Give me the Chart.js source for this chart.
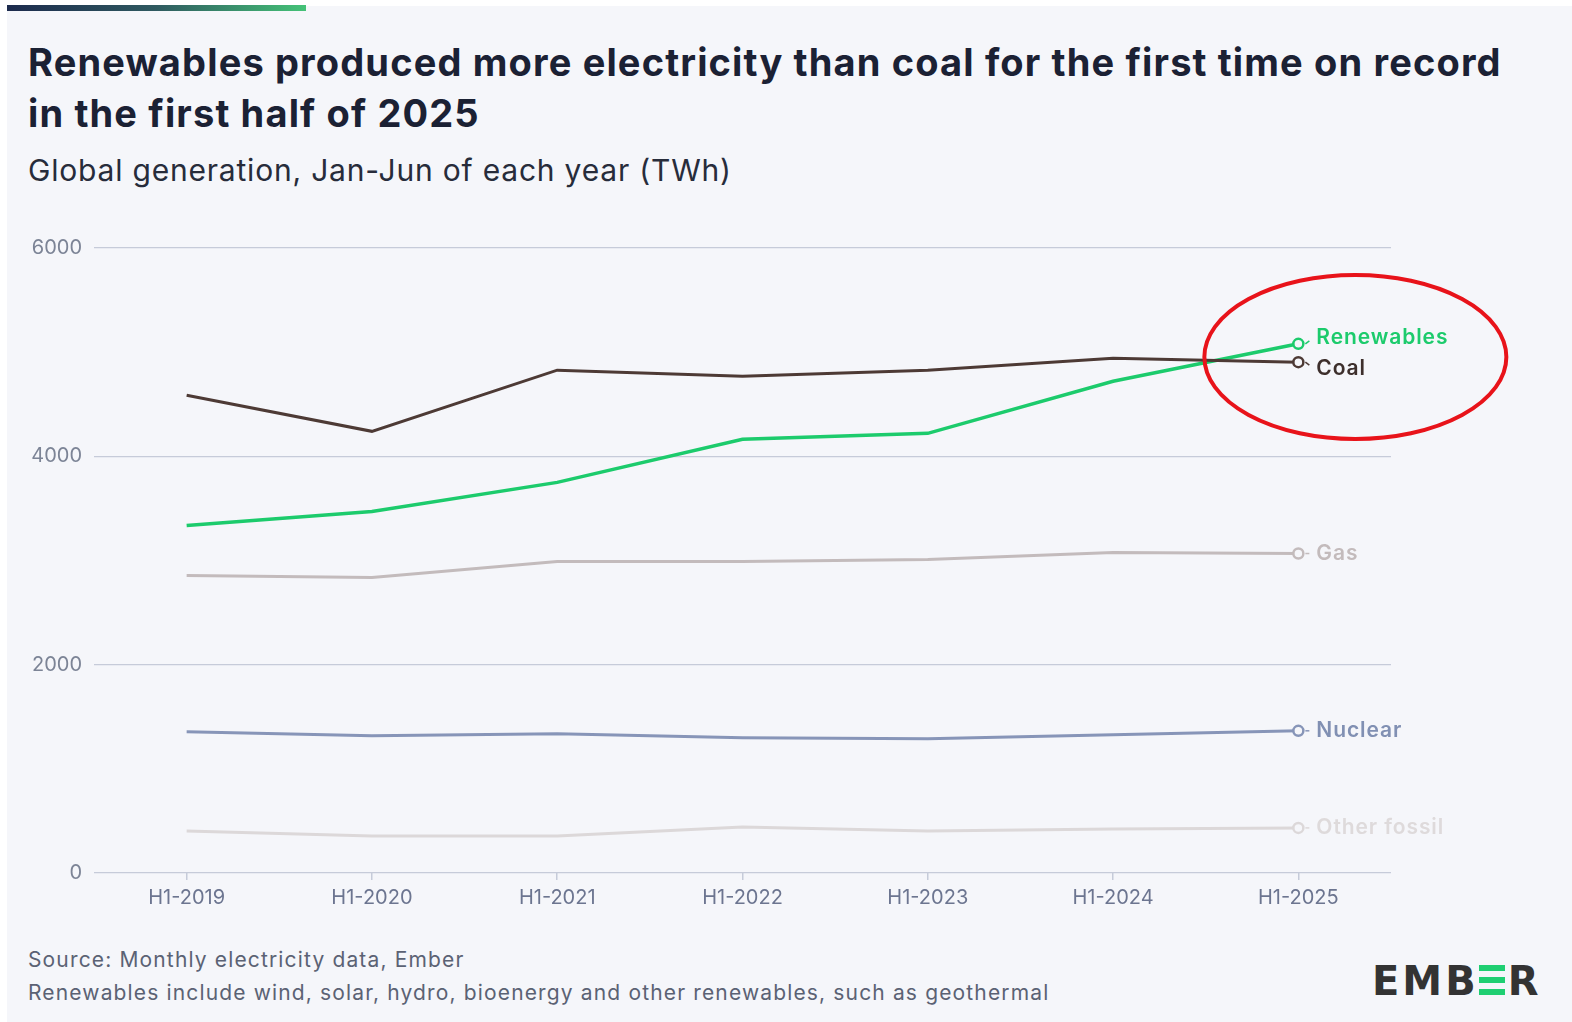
<!DOCTYPE html>
<html>
<head>
<meta charset="utf-8">
<script src="https://cdn.jsdelivr.net/npm/chart.js@4.4.1/dist/chart.umd.min.js"></script>
<style>
    html, body { margin: 0; padding: 0; background: #ffffff; }
    body { width: 1572px; height: 1022px; position: relative; overflow: hidden; font-family: 'Inter', 'Noto Sans', sans-serif; }
    #panel { position: absolute; left: 7px; top: 6px; right: 0; bottom: 0; background: #f5f6fa; }
    #topbar { position: absolute; left: 7px; top: 5px; width: 299px; height: 6px; background: linear-gradient(90deg, #1c2a4d 0%, #2f5a60 50%, #44c277 100%); }
    #title { position: absolute; left: 28px; top: 37px; font-size: 38px; font-weight: 700; color: #1b2134; line-height: 51px; letter-spacing: 1.15px; white-space: nowrap; }
    #subtitle { position: absolute; left: 28px; top: 152px; font-size: 30px; font-weight: 400; color: #272c3b; letter-spacing: 0.8px; }
    #chart_wrap { position: absolute; left: 0; top: 224px; width: 1572px; height: 696px; }
    .note { position: absolute; left: 28px; font-size: 21px; color: #5b6274; letter-spacing: 1.15px; white-space: nowrap; }
    #logo { position: absolute; left: 1372px; top: 958px; font-size: 40px; font-weight: 800; color: #333333; letter-spacing: 3px; font-family: 'DejaVu Sans', sans-serif; }
    #logo .e3 { display: inline-block; width: 26px; height: 30px; position: relative; margin-right: 3px; }
    #logo .e3 i { position: absolute; left: 0; width: 26px; height: 6px; background: #1fcf72; }
</style>
</head>
<body>
<div id="panel"></div>
<div id="topbar"></div>
<div id="title">Renewables produced more electricity than coal for the first time on record<br>in the first half of 2025</div>
<div id="subtitle">Global generation, Jan-Jun of each year (TWh)</div>
<div id="chart_wrap"><canvas id="generation_graph"></canvas></div>
<div class="note" style="top: 947px;">Source: Monthly electricity data, Ember</div>
<div class="note" style="top: 980px;">Renewables include wind, solar, hydro, bioenergy and other renewables, such as geothermal</div>
<div id="logo">EMB<span class="e3"><i style="top:0"></i><i style="top:12px"></i><i style="top:24px"></i></span>R</div>
<script>
const years = ['H1-2019', 'H1-2020', 'H1-2021', 'H1-2022', 'H1-2023', 'H1-2024', 'H1-2025'];
const yTicks = [0, 2000, 4000, 6000];
const coal = [4587, 4240, 4827, 4769, 4827, 4942, 4904];
const renewables = [3337, 3471, 3750, 4163, 4221, 4721, 5080];
const gas = [2856, 2837, 2990, 2990, 3010, 3077, 3067];
const nuclear = [1356, 1317, 1337, 1298, 1288, 1327, 1365];
const other_fossil = [404, 356, 356, 442, 404, 423, 433];

const bg = '#f5f6fa';

function lastOnly(n, r) {
    let arr = [];
    for (let i = 0; i < n; i++) arr.push(i === n - 1 ? r : 0);
    return arr;
}

function series(label, data, color, labelColor, width, labelShift) {
    return {
        label: label,
        data: data,
        borderColor: color,
        borderWidth: width,
        pointRadius: lastOnly(data.length, 5),
        pointBorderWidth: 2.5,
        pointBackgroundColor: bg,
        pointBorderColor: color,
        tension: 0,
        labelColor: labelColor,
        labelShift: labelShift
    };
}

const endLabels = {
    id: 'endLabels',
    afterDatasetsDraw(chart) {
        const ctx = chart.ctx;
        ctx.save();
        chart.data.datasets.forEach(function (ds, i) {
            const meta = chart.getDatasetMeta(i);
            const pt = meta.data[meta.data.length - 1];
            ctx.strokeStyle = ds.borderColor;
            ctx.lineWidth = 1.5;
            ctx.beginPath();
            ctx.moveTo(pt.x + 7, pt.y);
            ctx.lineTo(pt.x + 11, pt.y - (ds.labelShift < 0 ? 3 : 0) + (ds.labelShift > 0 ? 3 : 0));
            ctx.stroke();
            ctx.fillStyle = ds.labelColor;
            ctx.font = '600 21px Inter';
            ctx.letterSpacing = '0.9px';
            ctx.textBaseline = 'middle';
            ctx.textAlign = 'left';
            ctx.fillText(ds.label, pt.x + 18, pt.y + ds.labelShift);
        });
        // red highlight ring
        const xs = chart.scales.x;
        const ys = chart.scales.y;
        const cx = xs.getPixelForValue(years.length - 1) + 57;
        const cy = (ys.getPixelForValue(renewables[renewables.length - 1]) + ys.getPixelForValue(coal[coal.length - 1])) / 2 + 4;
        ctx.strokeStyle = '#e8131a';
        ctx.lineWidth = 4;
        ctx.beginPath();
        ctx.ellipse(cx, cy, 151, 82, 0, 0, Math.PI * 2);
        ctx.stroke();
        ctx.restore();
    }
};

new Chart(document.getElementById('generation_graph'), {
    type: 'line',
    data: {
        labels: years,
        datasets: [
            series('Other fossil', other_fossil, '#dcd8d9', '#dedadb', 3, 0),
            series('Nuclear', nuclear, '#8795b8', '#8190b3', 3, 0),
            series('Gas', gas, '#c3bbbc', '#c3bbbc', 3, 0),
            series('Coal', coal, '#4d3a35', '#3d2f2c', 3, 7),
            series('Renewables', renewables, '#1ccb6c', '#1ccb6c', 3.5, -6)
        ]
    },
    plugins: [endLabels],
    options: {
        responsive: true,
        maintainAspectRatio: false,
        animation: false,
        layout: {
            padding: { top: 13, right: 181, left: 0, bottom: 0 }
        },
        plugins: {
            legend: { display: false },
            tooltip: { enabled: false }
        },
        scales: {
            y: {
                min: 0,
                max: 6000,
                afterBuildTicks: function (scale) {
                    scale.ticks = yTicks.map(function (v) { return { value: v }; });
                },
                afterFit: function (scale) {
                    scale.width = 94;
                },
                border: { display: false },
                grid: {
                    color: '#c6cbd9',
                    lineWidth: 1.2,
                    drawTicks: false
                },
                ticks: {
                    color: '#7c8496',
                    padding: 12,
                    font: { family: 'Inter', size: 20 },
                    callback: function (value) {
                        return String(value);
                    }
                }
            },
            x: {
                offset: true,
                afterFit: function (scale) {
                    scale.height = 47;
                },
                border: { display: false },
                grid: {
                    drawOnChartArea: false,
                    drawTicks: true,
                    tickLength: 7,
                    color: '#c6cbd9',
                    lineWidth: 1.5
                },
                ticks: {
                    color: '#6c7590',
                    padding: 6,
                    font: { family: 'Inter', size: 20 }
                }
            }
        }
    }
});
</script>
</body>
</html>
